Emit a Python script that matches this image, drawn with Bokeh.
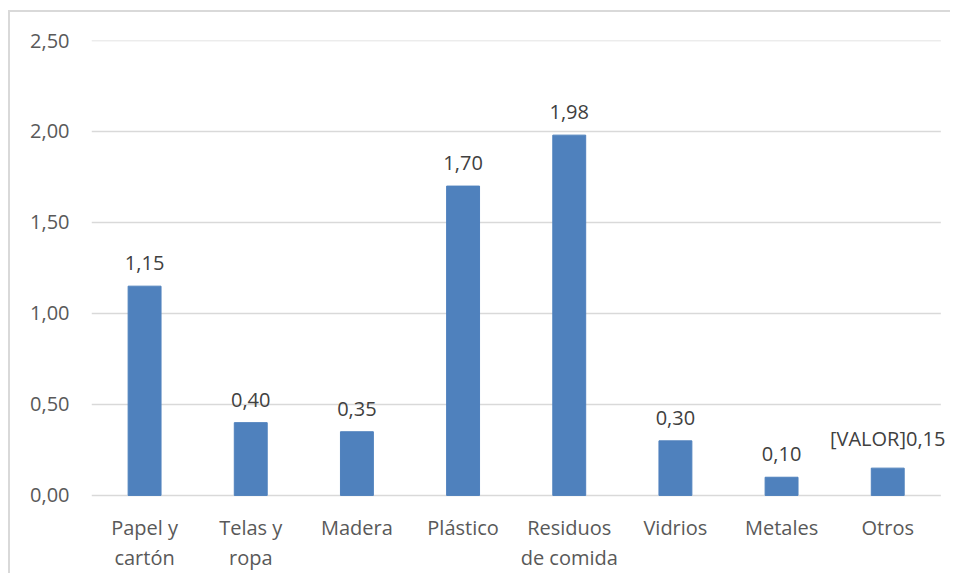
from bokeh.plotting import figure
from bokeh.models import ColumnDataSource, LabelSet, FixedTicker, CustomJSTickFormatter, Range1d
from bokeh.core.properties import value
from bokeh.embed import file_html
from bokeh.resources import INLINE

categories = ["Papel y cartón", "Telas y ropa", "Madera", "Plástico", "Residuos de comida", "Vidrios", "Metales", "Otros"]
tick_line1 = ["Papel y", "Telas y", "Madera", "Plástico", "Residuos", "Vidrios", "Metales", "Otros"]
tick_line2 = ["cartón", "ropa", "", "", "de comida", "", "", ""]
values = [1.15, 0.40, 0.35, 1.70, 1.98, 0.30, 0.10, 0.15]
label_prefix = ["", "", "", "", "", "", "", "[VALOR]"]
y_ticks = [0.0, 0.5, 1.0, 1.5, 2.0, 2.5]

labels = [pre + f"{v:.2f}".replace(".", ",") for pre, v in zip(label_prefix, values)]
n = len(categories)
xpos = [i + 0.5 for i in range(n)]  # category centres on the categorical-like axis

FONT = "Open Sans"
FS = "20px"
source = ColumnDataSource(dict(x=xpos, cat=categories, val=values, lab=labels,
                               l1=tick_line1, l2=tick_line2, zero=[0] * n))
grid = ColumnDataSource(dict(x0=[0] * len(y_ticks), x1=[n] * len(y_ticks), y=y_ticks))

p = figure(x_range=Range1d(0, 8.11), y_range=Range1d(-0.44, 2.5), width=942, height=563,
           output_backend="svg", toolbar_location=None,
           min_border_left=81, min_border_right=0, min_border_top=28, min_border_bottom=0)
p.styles = {"border-top": "2px solid #d9d9d9", "border-left": "2px solid #d9d9d9",
            "margin-left": "8px", "margin-top": "10px"}

p.segment(x0="x0", x1="x1", y0="y", y1="y", source=grid, line_color="#d9d9d9", line_width=1.5)
p.vbar(x="x", top="val", width=0.31, source=source, color="#4F81BD")

p.add_layout(LabelSet(x="x", y="val", text="lab", source=source, y_offset=16,
                      text_align="center", text_baseline="bottom",
                      text_font=value(FONT), text_font_size=FS, text_color="#404040"))

for txt, off in (("l1", -32), ("l2", -62)):
    p.add_layout(LabelSet(x="x", y="zero", text=txt, source=source, y_offset=off,
                          text_align="center", text_baseline="middle",
                          text_font=value(FONT), text_font_size=FS, text_color="#595959"))

p.outline_line_color = None
p.grid.visible = False
p.xaxis.visible = False

p.yaxis.ticker = FixedTicker(ticks=y_ticks)
p.yaxis.formatter = CustomJSTickFormatter(code="return tick.toFixed(2).replace('.', ',');")
p.yaxis.axis_line_color = None
p.yaxis.major_tick_line_color = None
p.yaxis.minor_tick_line_color = None
p.yaxis.major_label_standoff = 16
p.yaxis.major_label_text_font = FONT
p.yaxis.major_label_text_font_size = FS
p.yaxis.major_label_text_color = "#595959"

open("out.html", "w").write(file_html(p, INLINE))
